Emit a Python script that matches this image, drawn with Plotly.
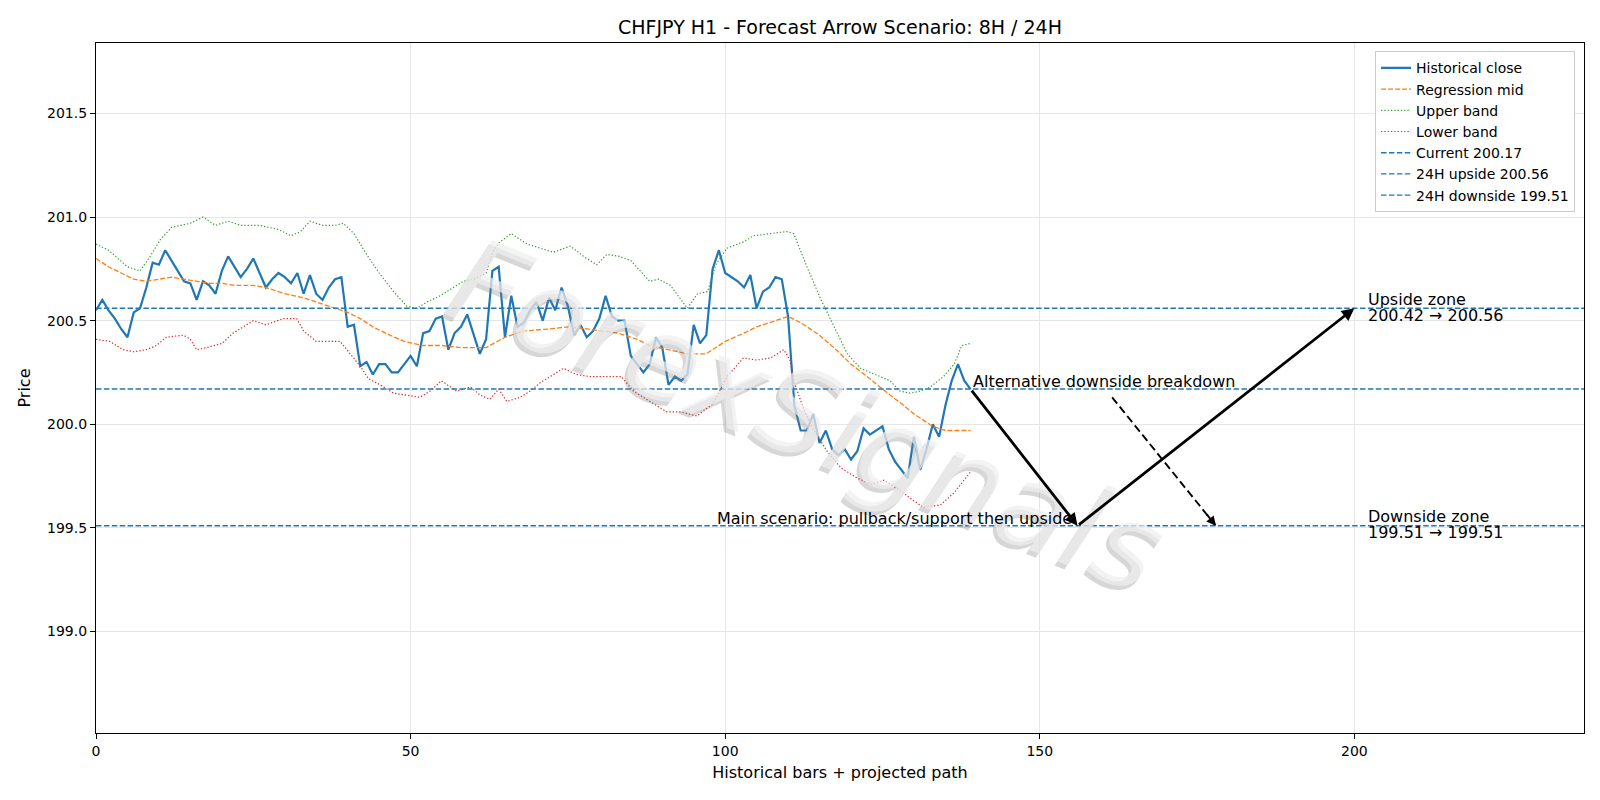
import plotly.graph_objects as go

# ---------------- data ----------------
close = [200.55, 200.60, 200.55, 200.51, 200.46, 200.42, 200.54, 200.56, 200.66, 200.78,
         200.77, 200.84, 200.79, 200.74, 200.69, 200.68, 200.60, 200.69, 200.67, 200.63,
         200.74, 200.81, 200.76, 200.71, 200.75, 200.80, 200.73, 200.66, 200.70, 200.73,
         200.71, 200.68, 200.73, 200.63, 200.72, 200.63, 200.60, 200.66, 200.70, 200.71,
         200.47, 200.48, 200.28, 200.30, 200.24, 200.29, 200.29, 200.25, 200.25, 200.29,
         200.33, 200.28, 200.44, 200.45, 200.51, 200.52, 200.36, 200.44, 200.47, 200.53,
         200.43, 200.34, 200.41, 200.74, 200.76, 200.42, 200.62, 200.47, 200.49, 200.55,
         200.59, 200.50, 200.61, 200.55, 200.66, 200.57, 200.43, 200.48, 200.42, 200.45,
         200.51, 200.62, 200.52, 200.50, 200.50, 200.33, 200.29, 200.25, 200.29, 200.42,
         200.37, 200.19, 200.23, 200.21, 200.24, 200.48, 200.39, 200.43, 200.75, 200.84,
         200.73, 200.71, 200.69, 200.66, 200.72, 200.56, 200.64, 200.66, 200.71, 200.70,
         200.52, 200.09, 199.97, 199.97, 200.05, 199.91, 199.97, 199.88, 199.85, 199.88,
         199.83, 199.87, 199.98, 199.95, 199.97, 199.99, 199.88, 199.82, 199.78, 199.74,
         199.94, 199.78, 199.88, 200.00, 199.94, 200.09, 200.21, 200.29, 200.21, 200.17]
bars = list(range(len(close)))

mid_x = [0, 2, 4, 6, 8, 10, 12, 14, 16, 18, 20, 22, 25, 27, 30, 33, 35, 38, 40, 42, 44,
         46.7, 49, 52, 55, 58, 62, 65, 68, 72, 75, 78, 81, 83, 86, 88, 91, 94, 97, 100,
         103, 105, 108, 110, 112, 115, 118, 120, 123, 125, 128, 130, 133, 135, 139]
mid_y = [200.80, 200.76, 200.73, 200.70, 200.69, 200.70, 200.71, 200.70, 200.69, 200.68,
         200.68, 200.67, 200.67, 200.66, 200.63, 200.61, 200.59, 200.56, 200.54, 200.51,
         200.47, 200.43, 200.40, 200.38, 200.38, 200.37, 200.37, 200.42, 200.45, 200.46,
         200.47, 200.46, 200.45, 200.44, 200.41, 200.38, 200.36, 200.34, 200.34, 200.40,
         200.44, 200.47, 200.50, 200.52, 200.49, 200.43, 200.35, 200.29, 200.22, 200.17,
         200.10, 200.05, 199.99, 199.97, 199.97]

upper_x = [0, 2, 5, 7, 8.6, 10.2, 12, 15, 17, 19, 21, 23, 26, 29, 31, 32.5, 34, 36, 38,
           39.3, 41, 43, 45, 47.3, 49.4, 51, 52.6, 54.7, 56.8, 58.4, 60, 62, 63.2, 64.2,
           66, 68.5, 70.6, 72.7, 75.4, 77.5, 79.6, 81.2, 83.2, 85, 88, 89.4, 91.3, 94,
           95.6, 97.2, 98.5, 100.3, 102.9, 104.5, 107.2, 109.8, 110.9, 113, 115.1, 117.3,
           119.4, 121.5, 124, 126.2, 127.8, 129.4, 131, 132.6, 134.7, 136.4, 137.6, 139]
upper_y = [200.87, 200.84, 200.76, 200.74, 200.81, 200.89, 200.95, 200.97, 201.00, 200.96,
           200.98, 200.96, 200.96, 200.94, 200.91, 200.93, 200.98, 200.96, 200.96, 200.97,
           200.92, 200.82, 200.73, 200.64, 200.57, 200.56, 200.59, 200.62, 200.66, 200.69,
           200.70, 200.73, 200.84, 200.88, 200.92, 200.87, 200.85, 200.83, 200.86, 200.81,
           200.77, 200.82, 200.81, 200.79, 200.69, 200.70, 200.67, 200.56, 200.63, 200.64,
           200.77, 200.85, 200.88, 200.91, 200.92, 200.93, 200.92, 200.76, 200.61, 200.47,
           200.34, 200.27, 200.24, 200.21, 200.16, 200.15, 200.16, 200.18, 200.23, 200.29,
           200.38, 200.39]

lower_x = [0, 2.2, 4.3, 6, 8, 9.6, 11.2, 13.9, 15, 16, 17.6, 20, 21.8, 25, 27, 29.8, 31.9,
           33, 35, 37, 38.8, 40.4, 42, 43.3, 45.2, 47.3, 49.4, 51.5, 53.1, 54.9, 57.3, 59.5,
           61.1, 62.6, 64, 65.3, 67.4, 69, 70.6, 72.7, 74.3, 76.4, 78.5, 80.6, 83.5, 85.4,
           88, 90.7, 92.8, 95.5, 98.1, 100.3, 102.9, 105, 107.2, 109.3, 110.3, 110.9, 112.5,
           114.1, 116.2, 118.4, 121, 123.2, 125.2, 127.8, 130, 131.5, 134.2, 136.4, 139]
lower_y = [200.41, 200.40, 200.36, 200.35, 200.36, 200.38, 200.42, 200.43, 200.41, 200.36,
           200.37, 200.39, 200.44, 200.50, 200.48, 200.51, 200.51, 200.45, 200.40, 200.40,
           200.40, 200.34, 200.28, 200.22, 200.19, 200.15, 200.14, 200.13, 200.16, 200.21,
           200.16, 200.18, 200.14, 200.12, 200.17, 200.11, 200.13, 200.16, 200.20, 200.24,
           200.27, 200.24, 200.23, 200.23, 200.23, 200.16, 200.11, 200.06, 200.06, 200.04,
           200.10, 200.23, 200.32, 200.31, 200.32, 200.36, 200.31, 200.21, 200.07, 199.97,
           199.87, 199.79, 199.74, 199.71, 199.73, 199.68, 199.63, 199.60, 199.61, 199.67,
           199.77]

current_level = 200.17
upside_level = 200.56
downside_level = 199.51
upside_zone = (200.42, 200.56)
downside_zone = (199.51, 199.51)

last_bar = 139
pullback_bar = 156
target_bar = 200
alt_start = (161.5, 200.13)
alt_bar = 178
zone_label_bar = 201.9

x_range = [0, 236.5]
y_range = [198.51, 201.84]

title = "CHFJPY H1 - Forecast Arrow Scenario: 8H / 24H"
watermark = "ForexSignals"

# ---------------- figure ----------------
FONT = "DejaVu Sans"
BLUE = "#1f77b4"
fig = go.Figure()

fig.add_trace(go.Scatter(x=bars, y=close, mode="lines", name="Historical close",
                         line=dict(color=BLUE, width=2.2)))
fig.add_trace(go.Scatter(x=mid_x, y=mid_y, mode="lines", name="Regression mid",
                         line=dict(color="#ff7f0e", width=1.3, dash="5px,2px")))
fig.add_trace(go.Scatter(x=upper_x, y=upper_y, mode="lines", name="Upper band",
                         line=dict(color="#2ca02c", width=1.2, dash="1.3px,2px")))
fig.add_trace(go.Scatter(x=lower_x, y=lower_y, mode="lines", name="Lower band",
                         line=dict(color="#d62728", width=1.2, dash="1.3px,2px")))
for lvl, nm in [(current_level, f"Current {current_level:.2f}"),
                (upside_level, f"24H upside {upside_level:.2f}"),
                (downside_level, f"24H downside {downside_level:.2f}")]:
    fig.add_trace(go.Scatter(x=x_range, y=[lvl, lvl], mode="lines", name=nm,
                             line=dict(color=BLUE, width=1.4, dash="5.5px,2.4px")))

# watermark
wm_x, wm_y = 113, 200.04
fig.add_annotation(x=wm_x, y=wm_y, text=watermark, showarrow=False, textangle=22,
                   xshift=-3, yshift=-4,
                   font=dict(family=FONT, size=118, color="rgba(130,130,130,0.32)", style="italic"))
fig.add_annotation(x=wm_x, y=wm_y, text=watermark, showarrow=False, textangle=22,
                   font=dict(family=FONT, size=118, color="rgba(238,238,238,0.72)", style="italic"))

# scenario arrows
arrow_common = dict(showarrow=True, arrowhead=2, arrowsize=0.9, arrowwidth=2.8,
                    arrowcolor="black", axref="x", ayref="y", text="", standoff=0)
fig.add_annotation(x=pullback_bar, y=downside_level, ax=last_bar, ay=current_level, **arrow_common)
fig.add_annotation(x=target_bar, y=upside_level, ax=pullback_bar, ay=downside_level, **arrow_common)

# dashed alternative arrow
fig.add_shape(type="line", x0=alt_start[0], y0=alt_start[1], x1=alt_bar, y1=downside_level,
              line=dict(color="black", width=1.9, dash="8px,4px"))
frac = 0.1
fig.add_annotation(x=alt_bar, y=downside_level,
                   ax=alt_bar - frac * (alt_bar - alt_start[0]),
                   ay=downside_level - frac * (downside_level - alt_start[1]),
                   showarrow=True, arrowhead=2, arrowsize=1, arrowwidth=1.9,
                   arrowcolor="black", axref="x", ayref="y", text="", standoff=0)

txt_font = dict(family=FONT, size=16, color="black")
fig.add_annotation(x=last_bar, y=current_level, text="Alternative downside breakdown",
                   showarrow=False, xanchor="left", yanchor="bottom", yshift=-4, font=txt_font)
fig.add_annotation(x=pullback_bar - 0.5, y=downside_level,
                   text="Main scenario: pullback/support then upside",
                   showarrow=False, xanchor="right", yanchor="bottom", yshift=-4, font=txt_font)
for lvl, head, zone in [(upside_level, "Upside zone", upside_zone),
                        (downside_level, "Downside zone", downside_zone)]:
    fig.add_annotation(x=zone_label_bar, y=lvl, text=head, showarrow=False,
                       xanchor="left", yanchor="middle", yshift=9, font=txt_font)
    fig.add_annotation(x=zone_label_bar, y=lvl, text=f"{zone[0]:.2f} → {zone[1]:.2f}",
                       showarrow=False, xanchor="left", yanchor="middle", yshift=-7,
                       font=txt_font)

axis_common = dict(showline=True, linecolor="black", linewidth=1.2, mirror=True,
                   ticks="outside", ticklen=5, tickwidth=1, tickcolor="black",
                   showgrid=True, gridcolor="#e6e6e6", gridwidth=1, zeroline=False,
                   tickfont=dict(family=FONT, size=14, color="black"))
fig.update_xaxes(range=x_range, dtick=50, tick0=0,
                 title=dict(text="Historical bars + projected path", standoff=8,
                            font=dict(family=FONT, size=16, color="black")), **axis_common)
fig.update_yaxes(range=y_range, dtick=0.5, tick0=199.0, tickformat=".1f",
                 title=dict(text="Price", standoff=12,
                            font=dict(family=FONT, size=16, color="black")), **axis_common)

fig.update_layout(
    width=1600, height=800,
    margin=dict(l=96, r=16, t=43, b=67),
    paper_bgcolor="white", plot_bgcolor="white",
    title=dict(text=title, x=0.5 * (96 + 1584) / 1600, xanchor="center",
               y=1 - 27 / 800, yanchor="middle",
               font=dict(family=FONT, size=19, color="black")),
    font=dict(family=FONT, size=14, color="black"),
    legend=dict(x=0.994, y=0.988, xanchor="right", yanchor="top",
                bgcolor="rgba(255,255,255,0.85)", bordercolor="#cccccc", borderwidth=1,
                font=dict(family=FONT, size=14, color="black"),
                itemwidth=30, tracegroupgap=0),
    showlegend=True,
)

fig.write_html("out.html")
